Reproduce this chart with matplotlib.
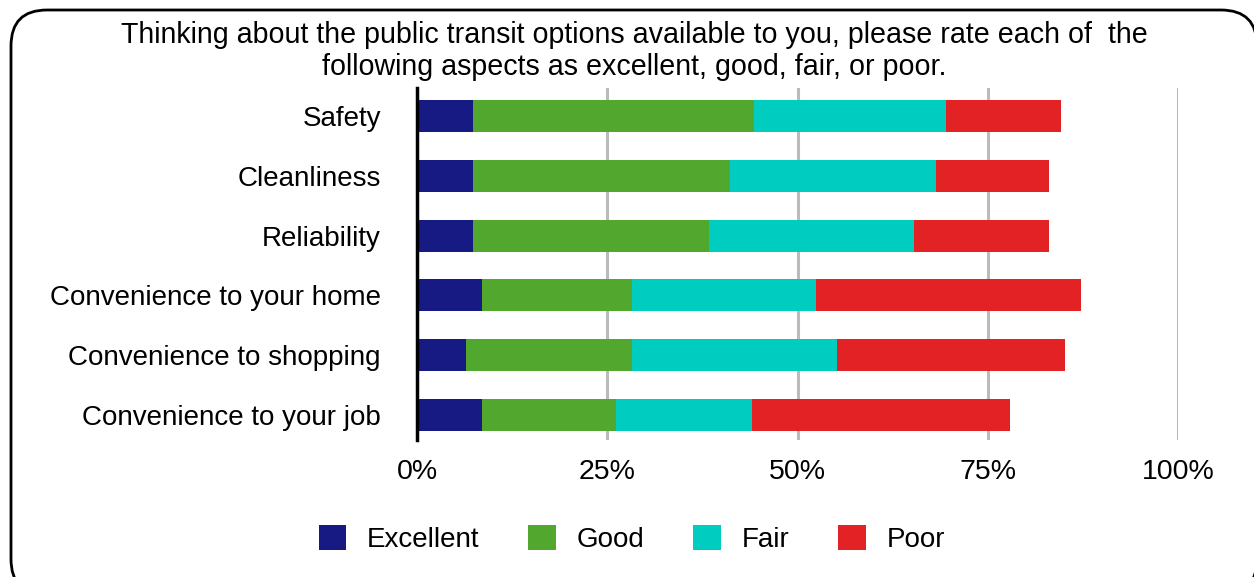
import matplotlib
matplotlib.use("Agg")
import matplotlib.pyplot as plt
from matplotlib.patches import FancyBboxPatch
import numpy as np

categories = ["Safety", "Cleanliness", "Reliability",
              "Convenience to your home", "Convenience to shopping",
              "Convenience to your job"]
excellent = [7.4, 7.4, 7.4, 8.5, 6.4, 8.5]
good = [36.9, 33.7, 31.0, 19.8, 21.9, 17.7]
fair = [25.2, 27.1, 26.9, 24.1, 26.9, 17.8]
poor = [15.1, 14.9, 17.8, 34.9, 30.0, 33.9]

series_names = ["Excellent", "Good", "Fair", "Poor"]
colors = ["#171a82", "#52a82e", "#00ccc0", "#e32226"]
ticks = [0, 25, 50, 75, 100]
tick_labels = ["0%", "25%", "50%", "75%", "100%"]

title = ("Thinking about the public transit options available to you, please rate each of  the\n"
         "following aspects as excellent, good, fair, or poor.")

plt.rcParams["font.family"] = ["Liberation Sans Narrow", "Liberation Sans", "DejaVu Sans"]

W, H = 1254, 577
fig = plt.figure(figsize=(W / 100, H / 100), dpi=100)

# background axes in pixel units, only for the rounded frame (cut off at right/bottom)
# white face so agg doesn't clip the curved path oddly
bg = fig.add_axes([0, 0, 1, 1], zorder=-1)
bg.set_xlim(0, W)
bg.set_ylim(H, 0)
bg.axis("off")
bg.add_patch(FancyBboxPatch((11, 10), 1246, 585,
                            boxstyle="round,pad=0,rounding_size=36",
                            facecolor="white", edgecolor="black", linewidth=2))

ax = fig.add_axes([417 / W, 1 - 440 / H, (1178 - 417) / W, (440 - 88) / H])

y = np.arange(len(categories))
left = np.zeros(len(categories))
for name, vals, c in zip(series_names, [excellent, good, fair, poor], colors):
    ax.barh(y, vals, left=left, height=0.535, color=c, label=name, zorder=3)
    left += np.array(vals)

ax.set_xlim(0, 100)
ax.set_ylim(5.42, -0.47)
ax.set_yticks(y)
ax.set_yticklabels(categories, fontsize=20)
ax.set_xticks(ticks)
ax.set_xticklabels(tick_labels, fontsize=20.5)
ax.tick_params(axis="both", length=0)
ax.tick_params(axis="y", pad=26)
ax.tick_params(axis="x", pad=14)
ax.patch.set_alpha(0)

for t in ticks[1:]:
    ax.axvline(t, color="#bbbbbb", linewidth=2.2, zorder=1)

for s in ["top", "right", "bottom"]:
    ax.spines[s].set_visible(False)
ax.spines["left"].set_linewidth(2.5)
ax.spines["left"].set_color("black")
ax.spines["left"].set_zorder(4)

fig.text(634 / W, 1 - 51 / H, title, ha="center", va="center",
         fontsize=20.6, linespacing=1.16)

fig.legend(loc="center", bbox_to_anchor=(632 / W, 1 - 539 / H), ncol=4,
           frameon=False, fontsize=20, handlelength=1.0, handleheight=1.0,
           handletextpad=0.75, columnspacing=1.75)

fig.savefig("out.png", dpi=100)
